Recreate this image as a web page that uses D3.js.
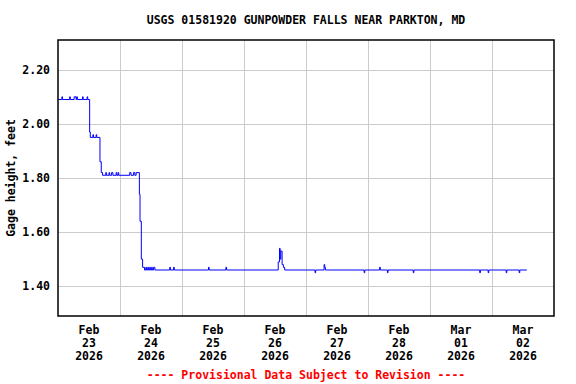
<!DOCTYPE html>
<html>
<head>
<meta charset="utf-8">
<script src="https://cdn.jsdelivr.net/npm/d3@7"></script>
<style>
  html, body { margin: 0; padding: 0; background: #fff; }
  svg { display: block; }
  text { font-family: "DejaVu Sans Mono", "Liberation Mono", monospace; font-weight: bold; font-size: 11.5px; }
</style>
</head>
<body>
<svg id="chart" width="576" height="384"></svg>
<script>
const title = "USGS 01581920 GUNPOWDER FALLS NEAR PARKTON, MD";
const yTitle = "Gage height, feet";
const footer = "---- Provisional Data Subject to Revision ----";
const yTicks = [1.40, 1.60, 1.80, 2.00, 2.20];
const xTickDays = ["2026-02-23", "2026-02-24", "2026-02-25", "2026-02-26", "2026-02-27", "2026-02-28", "2026-03-01", "2026-03-02"];
const xDomain = ["2026-02-23 00:00", "2026-03-03 00:00"];
const yDomain = [1.29, 2.31];

// Change points of the gage-height record (value holds until next time)
const times = [
  "2026-02-23 00:00","2026-02-23 01:30","2026-02-23 01:45","2026-02-23 04:30","2026-02-23 04:45",
  "2026-02-23 06:15","2026-02-23 07:00","2026-02-23 07:15","2026-02-23 07:30","2026-02-23 09:30",
  "2026-02-23 09:45","2026-02-23 11:15","2026-02-23 11:30","2026-02-23 12:15","2026-02-23 12:30",
  "2026-02-23 13:30","2026-02-23 13:45","2026-02-23 14:45","2026-02-23 15:00","2026-02-23 16:15",
  "2026-02-23 16:45","2026-02-23 17:15","2026-02-23 18:30","2026-02-23 18:45","2026-02-23 19:45",
  "2026-02-23 20:00","2026-02-23 20:45","2026-02-23 21:15","2026-02-23 22:30","2026-02-23 22:45",
  "2026-02-23 23:15","2026-02-23 23:30",
  "2026-02-24 03:45","2026-02-24 04:15","2026-02-24 05:15","2026-02-24 05:45","2026-02-24 06:15",
  "2026-02-24 07:30","2026-02-24 07:45","2026-02-24 08:15","2026-02-24 08:45","2026-02-24 09:30",
  "2026-02-24 10:00","2026-02-24 10:15","2026-02-24 10:45","2026-02-24 11:00","2026-02-24 11:30",
  "2026-02-24 11:45","2026-02-24 12:15","2026-02-24 12:30","2026-02-24 13:00","2026-02-24 13:30",
  "2026-02-24 19:15","2026-02-24 19:30","2026-02-24 20:45","2026-02-24 21:00",
  "2026-02-25 10:15","2026-02-25 10:30","2026-02-25 17:00","2026-02-25 17:15",
  "2026-02-26 13:15","2026-02-26 13:45","2026-02-26 14:00","2026-02-26 14:15","2026-02-26 14:45",
  "2026-02-26 15:15","2026-02-26 15:45",
  "2026-02-27 03:30","2026-02-27 03:45","2026-02-27 07:00","2026-02-27 07:15","2026-02-27 07:30",
  "2026-02-27 22:30","2026-02-27 22:45",
  "2026-02-28 04:30","2026-02-28 04:45","2026-02-28 07:30","2026-02-28 07:45","2026-02-28 17:30",
  "2026-02-28 17:45",
  "2026-03-01 19:15","2026-03-01 19:30","2026-03-01 22:30","2026-03-01 22:45",
  "2026-03-02 05:30","2026-03-02 05:45","2026-03-02 10:30","2026-03-02 10:45","2026-03-02 13:30"
];
const heights = [
  2.09,2.10,2.09,2.10,2.09,
  2.10,2.09,2.10,2.09,2.10,
  2.09,2.10,2.09,1.97,1.95,
  1.96,1.95,1.96,1.95,1.86,
  1.82,1.81,1.82,1.81,1.82,
  1.81,1.82,1.81,1.82,1.81,
  1.82,1.81,
  1.82,1.81,1.82,1.81,1.82,
  1.74,1.64,1.50,1.47,1.46,
  1.47,1.46,1.47,1.46,1.47,
  1.46,1.47,1.46,1.47,1.46,
  1.47,1.46,1.47,1.46,
  1.47,1.46,1.47,1.46,
  1.49,1.54,1.50,1.53,1.48,
  1.47,1.46,
  1.45,1.46,1.48,1.47,1.46,
  1.45,1.46,
  1.47,1.46,1.45,1.46,1.45,
  1.46,
  1.45,1.46,1.45,1.46,
  1.45,1.46,1.45,1.46,1.46
];

const parse = d3.timeParse("%Y-%m-%d %H:%M");
const parseDay = d3.timeParse("%Y-%m-%d");
const data = times.map((t, i) => ({ t: parse(t), v: heights[i] }));

const L = 58, R = 554, T = 40, B = 316;
const svg = d3.select("#chart");

const x = d3.scaleTime().domain(xDomain.map(parse)).range([L, R]);
const y = d3.scaleLinear().domain(yDomain).range([B, T]);

// gridlines
const dayLines = d3.timeDay.range(x.domain()[0], x.domain()[1]).slice(1);
svg.append("g").selectAll("line").data(dayLines).join("line")
  .attr("x1", d => Math.round(x(d)) + 0.5).attr("x2", d => Math.round(x(d)) + 0.5)
  .attr("y1", T).attr("y2", B)
  .attr("stroke", "#cccccc").attr("stroke-width", 1);
svg.append("g").selectAll("line").data(yTicks).join("line")
  .attr("x1", L).attr("x2", R)
  .attr("y1", d => Math.round(y(d)) + 0.5).attr("y2", d => Math.round(y(d)) + 0.5)
  .attr("stroke", "#cccccc").attr("stroke-width", 1);

// data line
const line = d3.line().x(d => x(d.t)).y(d => y(d.v)).curve(d3.curveStepAfter);
svg.append("path").datum(data)
  .attr("d", line).attr("fill", "none").attr("stroke", "#0000ff").attr("stroke-width", 1);

// frame
svg.append("rect").attr("x", L).attr("y", T).attr("width", R - L).attr("height", B - T)
  .attr("fill", "none").attr("stroke", "#000").attr("stroke-width", 1.5);

// y tick labels
svg.append("g").selectAll("text").data(yTicks).join("text")
  .attr("x", 50).attr("y", d => y(d) + 4)
  .attr("text-anchor", "end").attr("fill", "#000")
  .text(d3.format(".2f"));

// x tick labels (centered on each day)
const fmtMon = d3.timeFormat("%b"), fmtDay = d3.timeFormat("%d"), fmtYr = d3.timeFormat("%Y");
const xg = svg.append("g").selectAll("text").data(xTickDays.map(parseDay)).join("text")
  .attr("text-anchor", "middle").attr("fill", "#000")
  .attr("x", d => x(d3.timeHour.offset(d, 12)));
xg.append("tspan").attr("y", 334).text(fmtMon);
xg.append("tspan").attr("x", d => x(d3.timeHour.offset(d, 12))).attr("y", 347).text(fmtDay);
xg.append("tspan").attr("x", d => x(d3.timeHour.offset(d, 12))).attr("y", 360).text(fmtYr);

// titles
svg.append("text").attr("x", (L + R) / 2).attr("y", 24).attr("text-anchor", "middle")
  .attr("fill", "#000").text(title);
svg.append("text").attr("transform", `translate(15,${(T + B) / 2}) rotate(-90)`)
  .attr("text-anchor", "middle").attr("fill", "#000").text(yTitle);
svg.append("text").attr("x", (L + R) / 2).attr("y", 379).attr("text-anchor", "middle")
  .attr("fill", "#ff0000").text(footer);
</script>
</body>
</html>
